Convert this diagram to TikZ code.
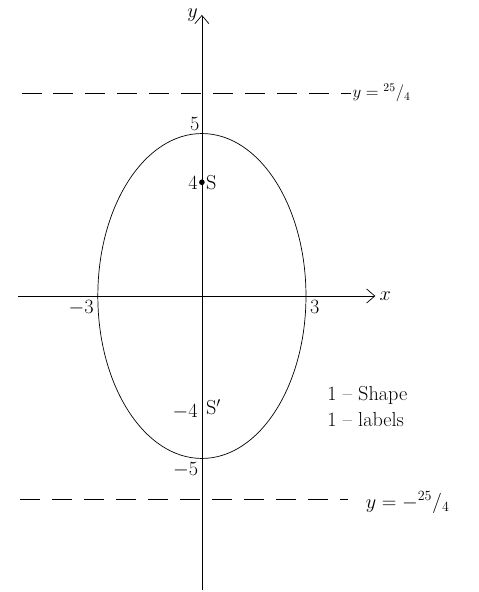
\documentclass[tikz,border=0pt]{standalone}
\usepackage{amsmath}
\usetikzlibrary{arrows.meta, positioning}

\begin{document}
\begin{tikzpicture}[x=1.041cm,y=0.975cm,>={Straight Barb[length=7pt,width=12pt]},font=\LARGE]
  \useasboundingbox (-5.82,-9.11) rectangle (7.98,9.11);
  \tikzset{dirline/.style={semithick, dash pattern=on 0.6cm off 0.36cm},
           axis/.style={->, semithick}}
  % axes
  \coordinate (xl) at (-5.3,0); \coordinate (xr) at (5,0);
  \coordinate (yb) at (0,-9.05); \coordinate (yt) at (0,8.65);
  \draw[axis] (xl) -- (xr) node[right] (xlab) {$x$};
  \draw[axis] (yb) -- (yt) node[left] (ylab) {$y$};
  % directrices
  \coordinate (dtl) at (-5.2,6.25); \coordinate (dtr) at (4.3,6.25);
  \coordinate (dbl) at (-5.25,-6.25); \coordinate (dbr) at (4.2,-6.25);
  \draw[dirline] (dtl) -- (dtr) node[right, inner sep=1pt, font=\Large] (dtlab) {$y={}^{25}/{}_{4}$};
  \draw[dirline] (dbl) -- (dbr) node[right, xshift=12pt, yshift=-3pt] (dblab) {$y=-{}^{25}/{}_{4}$};
  % ellipse
  \draw[semithick] (0,0) ellipse [x radius=3, y radius=5];
  % foci
  \coordinate (S) at (0,3.5); \coordinate (S') at (0,-3.5);
  \fill (S) circle (2.4pt);
  \node[right] (slab) at (S) {S};
  \node[left] (sval) at (S) {4};
  \node[right, yshift=2pt] (s2lab) at (S') {S$'$};
  \node[left, yshift=-2pt] (s2val) at (S') {$-4$};
  % intercepts
  \node[above left, inner sep=2pt] (top) at (0,5) {5};
  \node[below left, inner sep=3pt] (bot) at (0,-5) {$-5$};
  \node[below left] (lft) at (-3,0) {$-3$};
  \node[below right] (rgt) at (3,0) {3};
  % marks
  \node[anchor=west, align=left] (marks) at (3.5,-3.4) {1 -- Shape\\1 -- labels};
\end{tikzpicture}
\end{document}
